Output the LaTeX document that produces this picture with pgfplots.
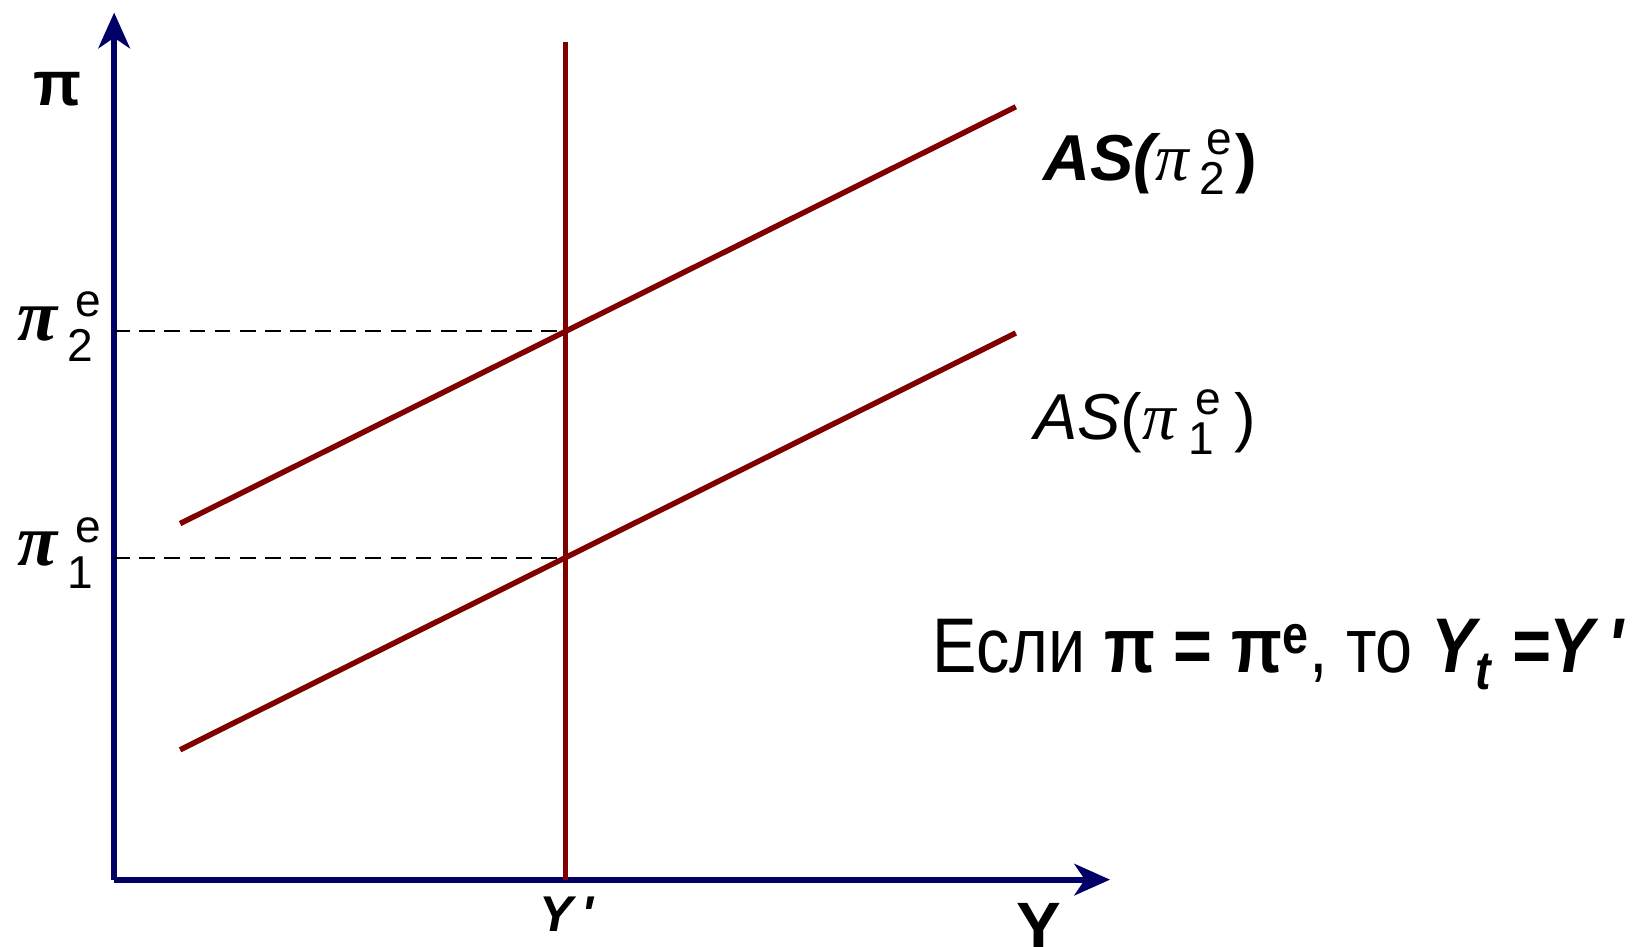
\documentclass[border=0pt]{standalone}
\usepackage{pgfplots}
\pgfplotsset{compat=1.18}
\usetikzlibrary{arrows.meta}
\usepackage{fontspec}
\setmainfont{Liberation Sans}
\newfontfamily\narrowfont[FakeStretch=0.86]{Liberation Sans}
\newfontfamily\pifont{Liberation Serif}
\definecolor{axisblue}{RGB}{0,0,102}
\definecolor{asred}{RGB}{128,0,0}
\newcommand{\stk}[1]{\makebox[0pt][l]{\hspace{3.5pt}\raisebox{12pt}{\fontsize{22}{22}\selectfont e}}\raisebox{-7pt}{\fontsize{22}{22}\selectfont #1}}
\newcommand{\ipi}[1]{{\pifont\itshape\fontsize{#1}{#1}\selectfont π}}
\begin{document}
\begin{tikzpicture}
\begin{axis}[
  x=0.5pt, y=0.5pt,
  xmin=0, xmax=951, ymin=0, ymax=828,
  axis lines=left,
  axis line style={axisblue, line width=3pt, -{Stealth[length=17pt,width=15pt,inset=5pt]}},
  ticks=none,
  clip=false,
]
\path (axis cs:-109,-64) rectangle (axis cs:1459,840);
\addplot[black, line width=0.9pt, dash pattern=on 7.5pt off 4.5pt] coordinates {(0,523.5) (431,523.5)};
\addplot[black, line width=0.9pt, dash pattern=on 7.5pt off 4.5pt] coordinates {(0,307.5) (431,307.5)};
\addplot[asred, line width=2.6pt] coordinates {(63,340) (861,738)};
\addplot[asred, line width=2.6pt] coordinates {(63,124) (861,522)};
\addplot[asred, line width=2.6pt] coordinates {(431,0) (431,800)};

% pi axis label
\node[font=\fontsize{30}{30}\selectfont\bfseries] at (axis cs:-54,755) {π};
% pi_2^e
\node[anchor=base west, inner sep=0pt, font=\bfseries] at (axis cs:-93,515) {\ipi{35}};
\node[anchor=base west, inner sep=0pt, font=\fontsize{22}{22}\selectfont] at (axis cs:-37,538) {e};
\node[anchor=base west, inner sep=0pt, font=\fontsize{22}{22}\selectfont] at (axis cs:-45,495) {2};
% pi_1^e
\node[anchor=base west, inner sep=0pt, font=\bfseries] at (axis cs:-93,300) {\ipi{35}};
\node[anchor=base west, inner sep=0pt, font=\fontsize{22}{22}\selectfont] at (axis cs:-37,322) {e};
\node[anchor=base west, inner sep=0pt, font=\fontsize{22}{22}\selectfont] at (axis cs:-45,278) {1};
% AS labels
\node[font=\fontsize{31}{31}\selectfont, anchor=base west, inner sep=0pt] at (axis cs:887,668) {{\bfseries\itshape AS(}\hspace{0pt}\ipi{32}\hspace{5pt}\stk{2}\hspace{5pt}{\bfseries )}};
\node[font=\fontsize{31}{31}\selectfont, anchor=base west, inner sep=0pt] at (axis cs:878,420) {{\itshape AS}(\hspace{0pt}\ipi{32}\hspace{6pt}\stk{1}\hspace{10pt})};
% x labels
\node[font=\fontsize{24}{24}\selectfont\bfseries\itshape] at (axis cs:432,-33) {Y\,\textquotesingle};
\node[overlay, font=\fontsize{32}{32}\selectfont\bfseries] at (axis cs:883,-45) {Y};
% statement
\node[font=\fontsize{37}{37}\selectfont\narrowfont, anchor=base west, inner sep=0pt] at (axis cs:781,198) {Если {\bfseries π = π\textsuperscript{e}}, то {\bfseries\itshape Y\textsubscript{t} =Y\,\textquotesingle}};
\end{axis}
\end{tikzpicture}
\end{document}
